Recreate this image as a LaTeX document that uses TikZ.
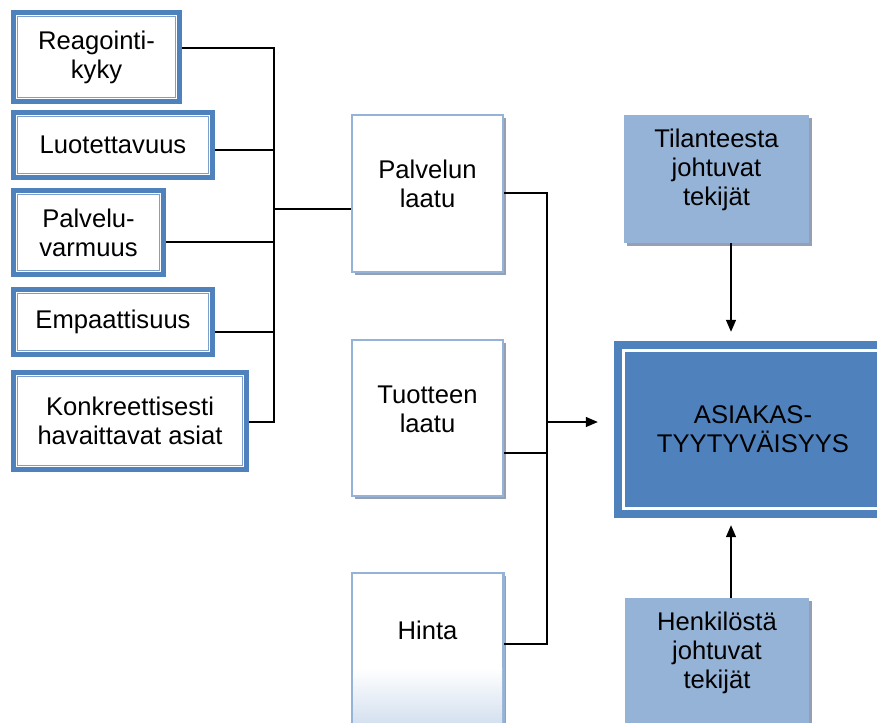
\documentclass[tikz,border=0pt]{standalone}
\usepackage{fontspec}
\setmainfont{Liberation Sans}
\usetikzlibrary{arrows.meta,shadows}

\definecolor{accent}{HTML}{4F81BD}
\definecolor{accentlight}{HTML}{95B3D7}
\definecolor{accentpale}{HTML}{D5E1F0}
\definecolor{innerline}{HTML}{7BA0CD}
\definecolor{shadowgray}{RGB}{150,160,180}

\tikzset{
  txt/.style={font=\fontsize{25.6}{29}\selectfont, align=center, text=black, inner sep=0pt},
  % left factor boxes: heavy blue frame, white gap, thin inner rule
  factor/.style={rectangle, fill=accent, inner sep=0pt, txt,
    path picture={
      \fill[white] ([shift={(5pt,5pt)}]path picture bounding box.south west)
        rectangle ([shift={(-5pt,-5pt)}]path picture bounding box.north east);
      \draw[innerline, line width=1pt] ([shift={(6.8pt,6.8pt)}]path picture bounding box.south west)
        rectangle ([shift={(-6.8pt,-6.8pt)}]path picture bounding box.north east);
    }},
  % quality boxes in the middle column
  quality/.style={rectangle, fill=white, draw=accentlight, line width=1.5pt,
    drop shadow={shadow xshift=3pt, shadow yshift=-3pt, fill=shadowgray, opacity=1}},
  % influence boxes on the right
  influence/.style={rectangle, fill=accentlight, draw=none,
    drop shadow={shadow xshift=3pt, shadow yshift=-3pt, fill=shadowgray, opacity=1}},
  % central outcome box
  outcome/.style={rectangle, fill=accent, inner sep=0pt,
    path picture={
      \draw[white, line width=3pt] ([shift={(9.5pt,9.5pt)}]path picture bounding box.south west)
        rectangle ([shift={(-9.5pt,-9.5pt)}]path picture bounding box.north east);
    }},
  link/.style={draw=black, line width=1.3pt},
  arr/.style={link, -{Triangle[length=12pt,width=10pt]}},
}

\begin{document}
\begin{tikzpicture}[x=1pt, y=-1pt]
\clip (0,0) rectangle (877,722);
\fill[white] (0,0) rectangle (877,722);

% service quality dimensions
\node[factor, minimum width=171pt, minimum height=94pt] (re) at (96.5,57) {Reagointi-\\kyky};
\node[factor, minimum width=204pt, minimum height=70pt] (lu) at (113,145) {Luotettavuus};
\node[factor, minimum width=155pt, minimum height=89pt] (pv) at (88.5,232.5) {Palvelu-\\varmuus};
\node[factor, minimum width=204pt, minimum height=70pt] (em) at (113,322) {Empaattisuus};
\node[factor, minimum width=238pt, minimum height=102pt] (ko) at (130,421) {Konkreettisesti\\havaittavat asiat};

% middle column
\node[quality, minimum width=151pt, minimum height=157pt] (pl) at (427.5,193.5) {};
\node[txt] (plt) at (427.5,184) {Palvelun\\laatu};
\node[quality, minimum width=151pt, minimum height=156pt] (tu) at (427.5,418) {};
\node[txt] (tut) at (427.5,409) {Tuotteen\\laatu};
\node[quality, minimum width=151pt, minimum height=157pt] (hi) at (427.5,651.5) {};
% soft gradient at the foot of the price box
\shade[top color=white, bottom color=accentpale] (353,668) rectangle (502.2,722);
\draw[accentlight, line width=1.5pt] (hi.north west) -- (hi.south west);
\draw[accentlight, line width=1.5pt] (hi.north east) -- (hi.south east);
\node[txt] (hit) at (427.5,630) {Hinta};

% right column
\node[influence, minimum width=185pt, minimum height=128pt] (ti) at (716.5,179) {};
\node[txt] (tit) at (716.5,170) {Tilanteesta\\johtuvat\\tekijät};
\node[influence, minimum width=184pt, minimum height=128pt] (he) at (717,662) {};
\node[txt] (het) at (717,653) {Henkilöstä\\johtuvat\\tekijät};
\node[outcome, minimum width=278pt, minimum height=177pt] (as) at (753,429.5) {};
\node[txt] (ast) at (753,429) {ASIAKAS-\\TYYTYVÄISYYS};

% left trunk
\coordinate (t1) at (274,48);
\coordinate (t2) at (274,150);
\coordinate (t3) at (274,242);
\coordinate (t4) at (274,332);
\coordinate (t5) at (274,422);
\coordinate (tj) at (274,209);
\draw[link] (re.east |- t1) -- (t1) -- (t5) -- (ko.east |- t5);
\draw[link] (lu.east |- t2) -- (t2);
\draw[link] (pv.east |- t3) -- (t3);
\draw[link] (em.east |- t4) -- (t4);
\draw[link] (tj) -- (pl.west |- tj);

% right trunk
\coordinate (u1) at (547,193);
\coordinate (u2) at (547,453);
\coordinate (u3) at (547,644);
\coordinate (ua) at (547,422);
\draw[link] (pl.east |- u1) -- (u1) -- (u3) -- (hi.east |- u3);
\draw[link] (tu.east |- u2) -- (u2);
\draw[arr, shorten >=16pt] (ua) -- (as.west |- ua);

% influences
\coordinate (v1) at (731,243);
\coordinate (v2) at (731,598);
\draw[arr, shorten >=9pt] (v1) -- (as.north -| v1);
\draw[arr, shorten >=7pt] (v2) -- (as.south -| v2);
\end{tikzpicture}
\end{document}
